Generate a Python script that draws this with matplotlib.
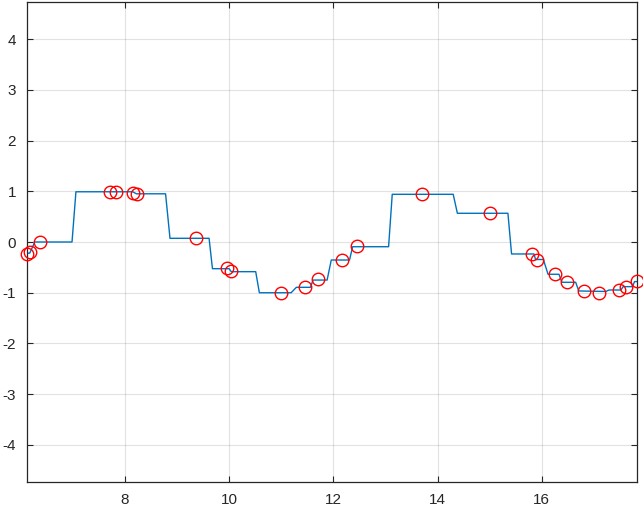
import numpy as np
import matplotlib
matplotlib.use('Agg')
import matplotlib.pyplot as plt

# sampled points (red circles)
t_samp = [6.121, 6.173, 6.365, 7.712, 7.827, 8.160, 8.237, 9.365, 9.955, 10.040,
          10.994, 11.460, 11.700, 12.167, 12.456, 13.706, 15.006, 15.810, 15.917,
          16.250, 16.475, 16.810, 17.090, 17.475, 17.615, 17.827]
y_samp = [-0.236, -0.191, 0.000, 0.979, 0.991, 0.960, 0.940, 0.073, -0.506, -0.571,
          -1.005, -0.880, -0.730, -0.355, -0.072, 0.940, 0.566, -0.242, -0.355,
          -0.630, -0.794, -0.966, -1.005, -0.946, -0.880, -0.768]

# held signal (blue staircase)
t_held = [6.121, 6.173, 6.270, 6.985, 7.060, 8.150, 8.220, 8.780, 8.865, 9.615,
          9.680, 10.000, 10.040, 10.510, 10.580, 11.190, 11.290, 11.560, 11.610,
          11.880, 11.960, 12.310, 12.370, 13.060, 13.130, 14.300, 14.380, 15.350,
          15.420, 15.850, 15.880, 16.030, 16.120, 16.330, 16.385, 16.650, 16.710,
          17.230, 17.290, 17.520, 17.560, 17.740, 17.780, 17.827]
y_held = [-0.220, -0.220, 0.000, 0.000, 0.990, 0.990, 0.950, 0.950, 0.073, 0.073,
          -0.526, -0.526, -0.585, -0.585, -1.000, -1.000, -0.893, -0.893, -0.750,
          -0.750, -0.355, -0.355, -0.093, -0.093, 0.940, 0.940, 0.566, 0.566,
          -0.236, -0.236, -0.345, -0.345, -0.636, -0.636, -0.794, -0.794, -0.965,
          -0.975, -0.946, -0.946, -0.880, -0.880, -0.780, -0.780]

x_ticks = [8, 10, 12, 14, 16]
y_ticks = [-4, -3, -2, -1, 0, 1, 2, 3, 4]

plt.rcParams['font.family'] = ['Liberation Sans', 'DejaVu Sans']
plt.rcParams['axes.unicode_minus'] = False

fig = plt.figure(figsize=(6.43, 5.11), dpi=100)
ax = fig.add_axes([27/643, 1 - 482/511, 610/643, 480/511])

ax.plot(t_held, y_held, color='#0072BD', lw=1.0)
ax.plot(t_samp, y_samp, 'o', mfc='none', mec='#FF0000', ms=9, mew=1.0, clip_on=False, zorder=3)

ax.set_xlim(t_samp[0], t_samp[-1])
ax.set_ylim(-4.73, 4.73)
ax.set_xticks(x_ticks)
ax.set_yticks(y_ticks)

ax.grid(True, color='#262626', alpha=0.13, lw=0.8)
ax.set_axisbelow(True)
for s in ax.spines.values():
    s.set_color('#262626')
    s.set_linewidth(0.9)
ax.tick_params(direction='in', length=4, width=0.8, colors='#262626',
               labelsize=11, top=True, right=True, pad=8)

plt.savefig('out.png', dpi=100)
